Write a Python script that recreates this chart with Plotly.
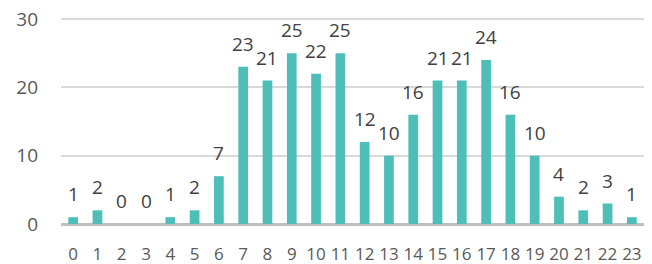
import plotly.graph_objects as go

categories = [str(i) for i in range(24)]
values = [1, 2, 0, 0, 1, 2, 7, 23, 21, 25, 22, 25, 12, 10, 16, 21, 21, 24, 16, 10, 4, 2, 3, 1]
y_ticks = [0, 10, 20, 30]
y_range = [0, 30.3]

font_family = "Open Sans, Liberation Sans, sans-serif"

fig = go.Figure()
fig.add_trace(go.Bar(
    x=categories, y=values,
    marker=dict(color="#4DBFB8", line=dict(width=0)),
    hoverinfo="x+y",
))

for c, v in zip(categories, values):
    fig.add_annotation(x=c, y=v, text=str(v), showarrow=False,
                       yanchor="bottom", yshift=8,
                       font=dict(family=font_family, size=19, color="#404040"))

fig.update_layout(
    width=652, height=264,
    margin=dict(l=61, r=8, t=17, b=40, autoexpand=False),
    plot_bgcolor="white", paper_bgcolor="white",
    bargap=0.6, showlegend=False,
    font=dict(family=font_family, size=19, color="#595959"),
)
fig.update_xaxes(
    type="category", showgrid=False, automargin=False, tickangle=0,
    showline=False, zeroline=False, ticklabeloverflow="allow",
    ticks="outside", ticklen=15, tickcolor="rgba(0,0,0,0)",
    tickfont=dict(size=17, color="#595959"),
)
fig.update_yaxes(
    range=y_range, tickvals=y_ticks, automargin=False,
    showgrid=True, gridcolor="#D9D9D9", gridwidth=1.5,
    zeroline=True, zerolinecolor="#BFBFBF", zerolinewidth=3,
    showline=False, ticks="", ticklabelstandoff=22, ticklabeloverflow="allow",
    tickfont=dict(size=19, color="#595959"),
)

# remove the browser's default 8px body margin so the figure fills the window
fig.write_html("out.html",
               config={"displayModeBar": False},
               post_script="document.body.style.margin='0';document.body.style.overflow='hidden';")
